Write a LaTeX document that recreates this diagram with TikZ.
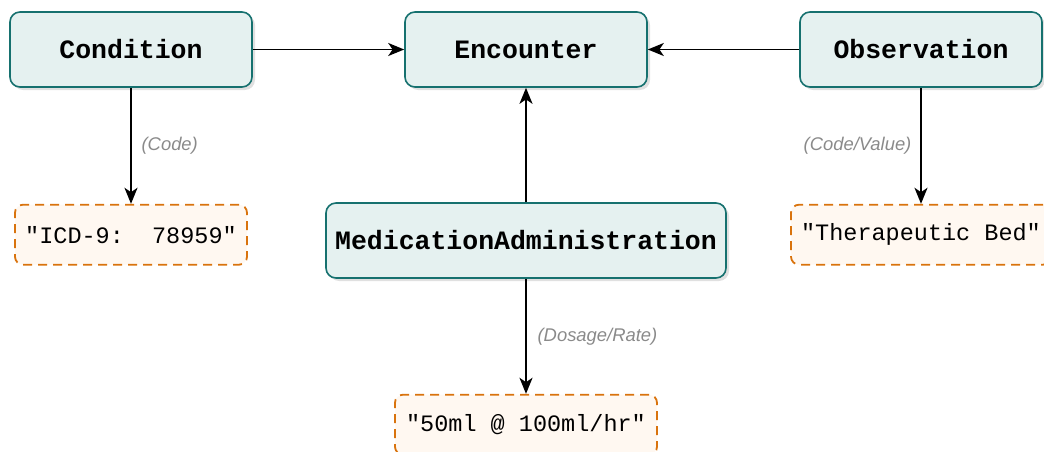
\documentclass[tikz,border=0pt]{standalone}
\usepackage{fontspec}
\setmainfont{Liberation Sans}
\setmonofont{Liberation Mono}
\usepackage{xcolor}
\usepackage{tikz}
\usetikzlibrary{arrows.meta,positioning,shadows}
\definecolor{tealline}{HTML}{16716F}
\definecolor{tealfill}{HTML}{E5F1F0}
\definecolor{valline}{HTML}{D9730D}
\definecolor{valfill}{HTML}{FFF8F1}
\definecolor{relgray}{HTML}{8A8A8A}

\begin{document}
\begin{tikzpicture}[x=0.5pt, y=0.5pt,
  entity/.style={draw=tealline, fill=tealfill, line width=0.8pt, rounded corners=5pt,
    minimum width=121pt, minimum height=37.5pt, inner sep=0pt,
    font=\ttfamily\bfseries\fontsize{13.25}{15}\selectfont,
    drop shadow={shadow xshift=1.5pt, shadow yshift=-1.5pt, opacity=0.12, fill=black}},
  valuebox/.style={draw=valline, fill=valfill, line width=0.9pt, dashed, dash pattern=on 4.5pt off 3pt,
    rounded corners=4pt, minimum height=30pt, inner sep=0pt,
    font=\ttfamily\fontsize{11.75}{14}\selectfont},
  rel/.style={font=\itshape\fontsize{9.2}{11}\selectfont, text=relgray},
  link/.style={-{Stealth[length=8pt, width=6.5pt, inset=2.2pt]}, line width=0.95pt}]
  \useasboundingbox (0,0) rectangle (1044,451);
  \node[entity] (cond) at (131,401.5) {Condition};
  \node[entity] (enc) at (526,401.5) {Encounter};
  \node[entity] (obs) at (921,401.5) {Observation};
  \node[entity, minimum width=200pt] (med) at (526,210.5) {MedicationAdministration};
  \node[valuebox, minimum width=116pt, below=58pt of cond] (icd) {"ICD-9:~~78959"};
  \node[valuebox, minimum width=130pt, below=58pt of obs] (bed) {"Therapeutic Bed"};
  \node[valuebox, minimum width=131pt, below=57.5pt of med] (dose) {"50ml @ 100ml/hr"};
  \draw[link] (cond) -- (enc);
  \draw[link] (obs) -- (enc);
  \draw[link] (med) -- (enc);
  \draw[link] (cond) -- node[rel, right=1.5pt]{(Code)} (icd);
  \draw[link] (obs) -- node[rel, left=1pt]{(Code/Value)} (bed);
  \draw[link] (med) -- node[rel, right=2pt]{(Dosage/Rate)} (dose);
\end{tikzpicture}
\end{document}
